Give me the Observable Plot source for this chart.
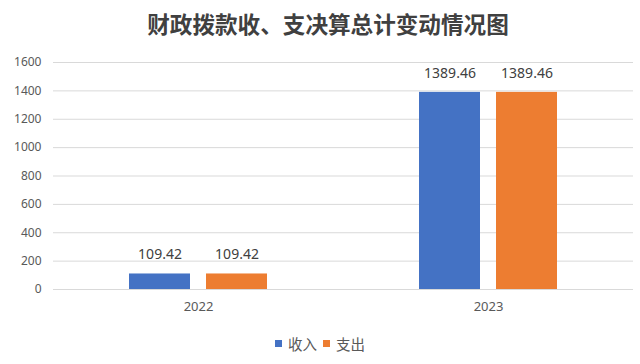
<!DOCTYPE html>
<html>
<head>
<meta charset="utf-8">
<script src="https://cdn.jsdelivr.net/npm/d3@7"></script>
<script src="https://cdn.jsdelivr.net/npm/@observablehq/plot@0.6"></script>
<style>
  html, body { margin: 0; padding: 0; background: #ffffff; }
  body { width: 640px; height: 364px; overflow: hidden; font-family: "Noto Sans", "Noto Sans CJK SC", sans-serif; }
  #title { height: 48px; line-height: 48px; text-align: center; padding-left: 16px; box-sizing: border-box;
           font-family: "Noto Sans CJK SC", sans-serif; font-size: 22.6px; font-weight: bold; color: #404040; }
  #legend { height: 34px; display: flex; align-items: center; justify-content: center; padding-left: 0px; box-sizing: border-box;
            font-family: "Noto Sans CJK SC", sans-serif; font-size: 14.5px; color: #595959; }
  .sw { display: inline-block; width: 7px; height: 7px; margin-right: 6px; }
  .item { display: inline-flex; align-items: center; margin: 0 3px; }
  #chart svg { display: block; }
</style>
</head>
<body>
<div id="title">财政拨款收、支决算总计变动情况图</div>
<div id="chart"></div>
<div id="legend"></div>
<script>
const years = ["2022", "2023"];
const seriesNames = ["收入", "支出"];
const income = [109.42, 1389.46];
const expense = [109.42, 1389.46];
const seriesColors = ["#4472C4", "#ED7D31"];
const yTicks = [0, 200, 400, 600, 800, 1000, 1200, 1400, 1600];

const data = years.flatMap((yr, i) => [
  { year: yr, s: seriesNames[0], v: income[i] },
  { year: yr, s: seriesNames[1], v: expense[i] }
]);

const chart = Plot.plot({
  width: 640,
  height: 278,
  marginTop: 14,
  marginBottom: 37,
  marginLeft: 53,
  marginRight: 7,
  style: { fontFamily: "'Noto Sans', 'Noto Sans CJK SC', sans-serif", background: "transparent", color: "#595959" },
  fx: { domain: years, padding: 0, label: null },
  x: { domain: seriesNames, paddingInner: 0.21, paddingOuter: 0.97, axis: null },
  y: { domain: [0, 1600], label: null },
  color: { domain: seriesNames, range: seriesColors },
  marks: [
    Plot.gridY(yTicks, { stroke: "#d9d9d9", strokeOpacity: 1 }),
    Plot.barY(data, { fx: "year", x: "s", y: "v", fill: "s" }),
    Plot.text(data, { fx: "year", x: "s", y: "v", text: d => d.v.toFixed(2), dy: -19, fontSize: 14, fill: "#404040" }),
    Plot.axisY(yTicks, { tickSize: 0, tickPadding: 12, fontSize: 12, fill: "#595959", label: null, tickFormat: d => String(d) }),
    Plot.axisFx({ anchor: "bottom", tickSize: 0, tickPadding: 12, fontSize: 13, fill: "#595959", label: null })
  ]
});
document.getElementById("chart").appendChild(chart);

const legend = document.getElementById("legend");
seriesNames.forEach((name, i) => {
  const item = document.createElement("span");
  item.className = "item";
  const sw = document.createElement("span");
  sw.className = "sw";
  sw.style.background = seriesColors[i];
  item.appendChild(sw);
  item.appendChild(document.createTextNode(name));
  legend.appendChild(item);
});
</script>
</body>
</html>
